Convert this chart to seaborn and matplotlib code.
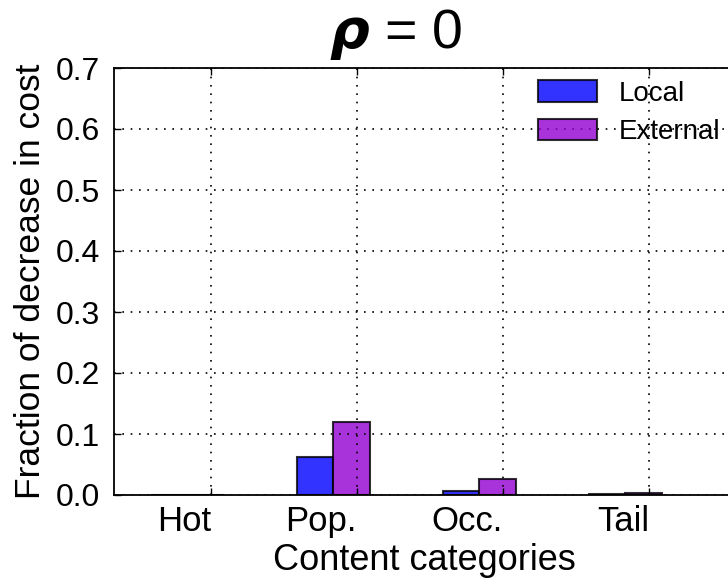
import numpy as np
import pandas as pd
import matplotlib
matplotlib.use("Agg")
import matplotlib.pyplot as plt
from matplotlib.patches import Patch
import seaborn as sns

categories = ["Hot", "Pop.", "Occ.", "Tail"]
series = ["Local", "External"]
local_vals = [0.0, 0.062, 0.007, 0.001]
external_vals = [0.0, 0.119, 0.026, 0.004]
colors = ["blue", "darkviolet"]
yticks = [0.0, 0.1, 0.2, 0.3, 0.4, 0.5, 0.6, 0.7]

df = pd.DataFrame({
    "category": categories * 2,
    "series": [series[0]] * 4 + [series[1]] * 4,
    "value": local_vals + external_vals,
})

sns.set_style("ticks")
plt.rcParams["font.family"] = ["Liberation Sans", "DejaVu Sans"]
plt.rcParams["xtick.direction"] = "in"
plt.rcParams["ytick.direction"] = "in"
for k in ["text.color", "axes.labelcolor", "xtick.color", "ytick.color"]:
    plt.rcParams[k] = "black"

fig = plt.figure(figsize=(7.28, 5.83), dpi=100)
ax = fig.add_axes([114 / 728, 88 / 583, 620.5 / 728, 427 / 583])

sns.barplot(data=df, x="category", y="value", hue="series", order=categories,
            hue_order=series, palette=colors, saturation=1, width=0.5, errorbar=None,
            alpha=0.8, edgecolor="black", linewidth=1.5, ax=ax, legend=False)

ax.set_xlim(-0.5, 3.75)
ax.set_ylim(0, 0.7)
ax.set_yticks(yticks)
ax.set_yticklabels([f"{v:.1f}" for v in yticks], fontsize=23)
ax.set_xticks(np.arange(4) + 0.164)
ax.set_xticklabels(categories, fontsize=25, ha="right")
ax.tick_params(axis="y", pad=10, length=5, width=1, right=True)
ax.tick_params(axis="x", pad=7, length=5, width=1, top=True)
ax.grid(True, linestyle=(0, (1, 4)), color="black", linewidth=1.2)
ax.set_axisbelow(False)
for s in ax.spines.values():
    s.set_linewidth(1.3)
    s.set_color("black")

ax.set_xlabel("Content categories", fontsize=26, labelpad=4)
ax.set_ylabel("Fraction of decrease in cost", fontsize=25.5, labelpad=6)

fig.text(396 / 728, 1 - 48 / 583, r"$\boldsymbol{\rho}$ = 0", fontsize=40,
         ha="center", va="baseline")

handles = [Patch(facecolor=c, edgecolor="black", alpha=0.8, linewidth=1.5) for c in colors]
leg = ax.legend(handles, series, loc="upper left", bbox_to_anchor=(530 / 728, 1 - 72 / 583),
                bbox_transform=fig.transFigure, frameon=False, fontsize=20,
                handlelength=2.1, handleheight=0.8, handletextpad=0.8, labelspacing=0.45,
                borderaxespad=0, borderpad=0.3)

fig.savefig("out.png", dpi=100)
